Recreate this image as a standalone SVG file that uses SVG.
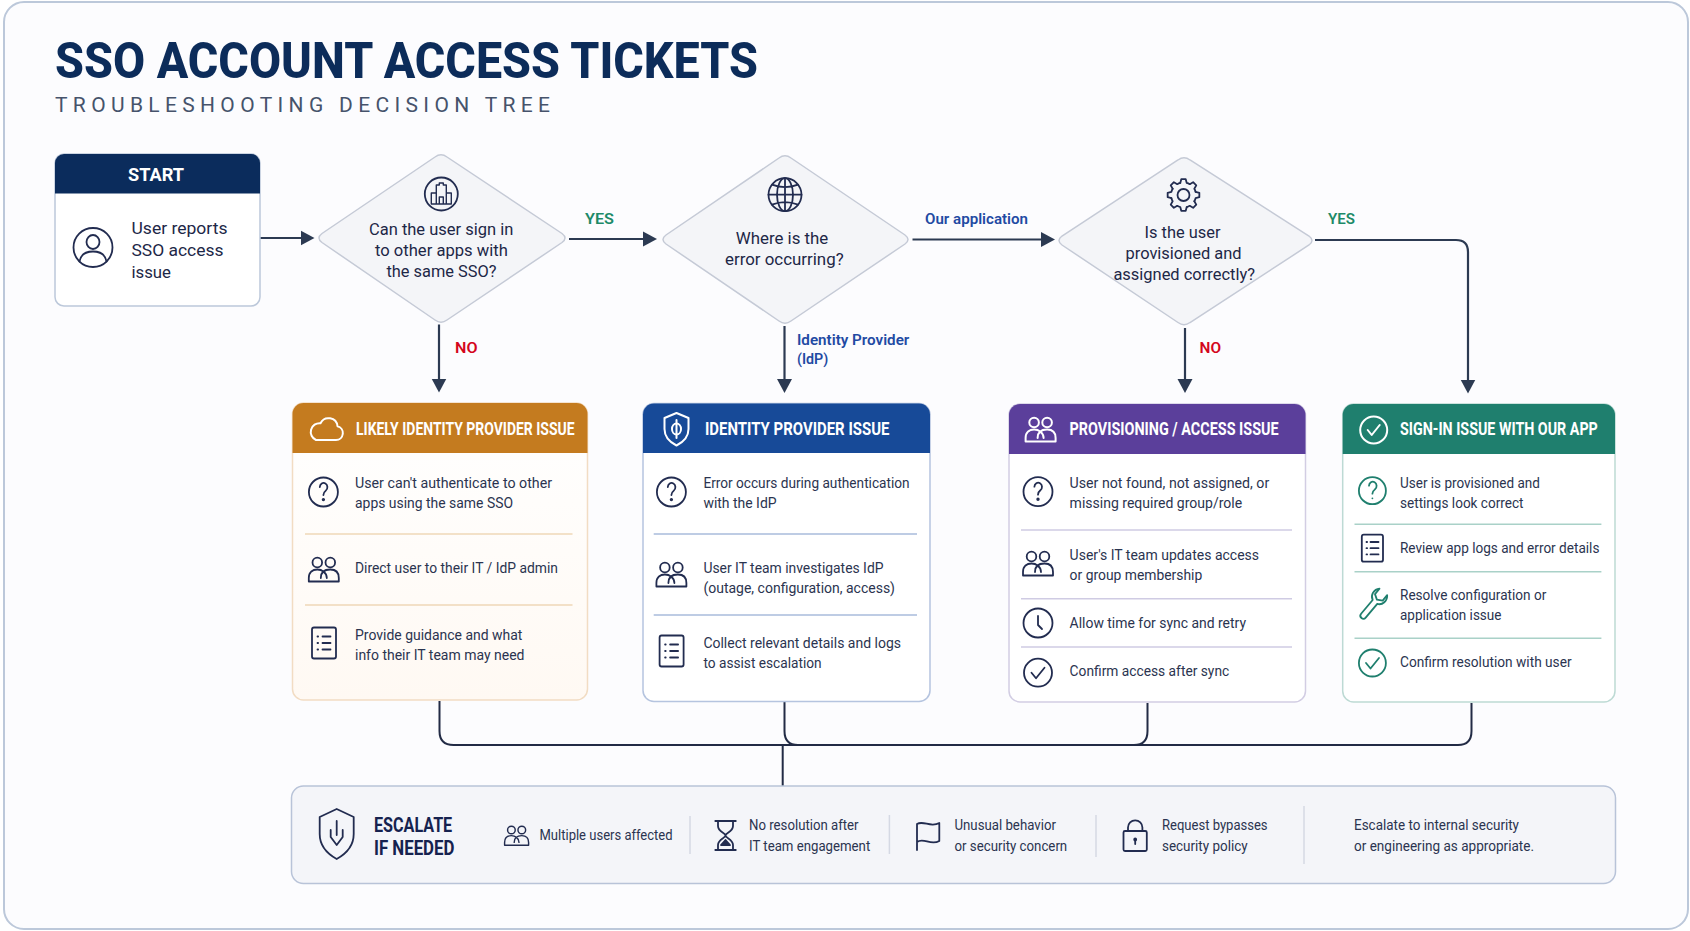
<svg xmlns="http://www.w3.org/2000/svg" xmlns:xlink="http://www.w3.org/1999/xlink" width="1690" height="931" viewBox="0 0 1690 931">
<style>
text{font-family:Roboto,"Liberation Sans",sans-serif}
.title{font-size:50px;font-weight:800;fill:#0c2c5a}
.sub{font-size:21px;fill:#46536b}
.b{font-size:15px;fill:#2b3450}
.q{font-size:17px;fill:#1d2747;text-anchor:start}
.h{font-size:17.5px;font-weight:700;fill:#fff}
.lab{font-size:15.5px;font-weight:600}
.yes{fill:#1d8a68}.no{fill:#d4061c}.blue{fill:#1f4aa3}
.esc{font-size:20px;font-weight:700;fill:#16224f}
.ic{fill:none;stroke:#222c50;stroke-width:1.8;stroke-linecap:round;stroke-linejoin:round}
.w{fill:none;stroke:#fff;stroke-width:2;stroke-linecap:round;stroke-linejoin:round}
.dia{fill:#f4f5f8;stroke:#c5cad6;stroke-width:1.5}
.c{fill:none;stroke:#2c3a52;stroke-width:2.2}
.c2{fill:none;stroke:#222b45;stroke-width:2}
.div{stroke-width:1.5}
.vd{stroke:#d5d9e4;stroke-width:1.5}
</style>
<defs>
<marker id="arrow" markerUnits="userSpaceOnUse" markerWidth="15" markerHeight="16" refX="11" refY="8" orient="auto"><path d="M0 0.5L14 8L0 15.5Z" fill="#2c3a52"/></marker>
<linearGradient id="gO" x1="0" y1="0" x2="0" y2="1"><stop offset="0" stop-color="#fff"/><stop offset="1" stop-color="#fff9f3"/></linearGradient>
<g id="i-q"><circle r="14.5"/><path d="M-3.6-5a3.8 4.2 0 1 1 6 3.6C1 -.3 0 .6 0 3"/><circle cy="7.6" r=".8"/></g>
<g id="i-people"><circle cx="-6.5" cy="-7.5" r="4.8"/><circle cx="6.5" cy="-7.5" r="4.8"/><path d="M-15 11.5V8C-15 2-11-.5-6.5-.5S3 2.500 3 8M-3 8C-3 2 1-.5 6.500-.5S15 2 15 8V11.500H-15"/></g>
<g id="i-doc"><rect x="-12" y="-15.500" width="24" height="31" rx="2"/><path d="M-6.500-6.500h.6M-1.500-6.500H6.500M-6.500 0h.6M-1.500 0H6.500M-6.500 6.500h.6M-1.500 6.500H6.500"/></g>
<g id="i-check"><circle r="14"/><path d="M-6.500 0L-2 5.500L6.500-5"/></g>
<path id="i-tooth" d="M-3.240-12.070L-2.230-15.840H2.230L3.240-12.070A12.500 12.500 0 0 1 6.250-10.830"/>
</defs>

<rect id="frame" x="4" y="2" width="1684" height="927" rx="20" fill="#fcfcfe" stroke="#bcc8da" stroke-width="2"/>

<g id="header">
<text class="title" x="55" y="78" textLength="703" lengthAdjust="spacingAndGlyphs">SSO ACCOUNT ACCESS TICKETS</text>
<text class="sub" x="55" y="111.500" textLength="495" lengthAdjust="spacing">TROUBLESHOOTING DECISION TREE</text>
</g>

<g id="connectors">
<path class="c" marker-end="url(#arrow)" d="M260 238H311.500"/>
<path class="c" marker-end="url(#arrow)" d="M569 239H654"/>
<path class="c" marker-end="url(#arrow)" d="M912.500 239.500H1052"/>
<path class="c" marker-end="url(#arrow)" d="M1315 240H1456Q1468 240 1468 252V390.500"/>
<path class="c" marker-end="url(#arrow)" d="M439 324.500V389.500"/>
<path class="c" marker-end="url(#arrow)" d="M784.500 326V390"/>
<path class="c" marker-end="url(#arrow)" d="M1185 328V390"/>
<path class="c2" d="M439.500 701V731Q439.500 745 453.500 745H1458Q1471.500 745 1471.500 731V703"/>
<path class="c2" d="M784.500 702V731Q784.500 745 798 745M1147.500 703V731Q1147.500 745 1134 745"/>
<path class="c2" d="M782.700 745V786"/>
</g>

<g id="start">
<rect x="55" y="154" width="205" height="152" rx="9" fill="#fff" stroke="#bcc8da" stroke-width="1.500"/>
<path d="M55 193.500V163a9 9 0 0 1 9-9H251a9 9 0 0 1 9 9V193.500Z" fill="#0b2c5c"/>
<text x="128" y="181" font-size="19" font-weight="700" fill="#fff" textLength="56" lengthAdjust="spacingAndGlyphs">START</text>
<g class="ic" transform="translate(93 247.500)"><circle r="19.500"/><ellipse cy="-5.500" rx="6.500" ry="7"/><path d="M-13.500 14C-12 6-6 4 0 4S12 6 13.500 14"/></g>
<text class="q" x="131.500" y="234" textLength="96" lengthAdjust="spacingAndGlyphs">User reports</text>
<text class="q" x="131.500" y="256" textLength="92" lengthAdjust="spacingAndGlyphs">SSO access</text>
<text class="q" x="131.500" y="277.500" textLength="39.500" lengthAdjust="spacingAndGlyphs">issue</text>
</g>

<g id="decision-sso">
<path class="dia" d="M435 157Q441 152.500 447 157L562 233.500Q568 238 562 242.500L447 320Q441 324.500 435 320L322 242.500Q316 238 322 233.500Z"/>
<g class="ic" transform="translate(441.300 194)"><circle r="16.500"/><path d="M-10 10V-1H-5V-9H-2V-11H2V-9H5V-1H10V10ZM-5 10V-1M5 10V-1M-2 10V3H2V10" stroke-width="1.400"/></g>
<text class="q" x="369" y="234.500" textLength="144.300" lengthAdjust="spacingAndGlyphs">Can the user sign in</text>
<text class="q" x="375" y="255.500" textLength="132.800" lengthAdjust="spacingAndGlyphs">to other apps with</text>
<text class="q" x="386.500" y="276.700" textLength="110" lengthAdjust="spacingAndGlyphs">the same SSO?</text>
</g>

<g id="decision-where">
<path class="dia" d="M779 158Q785 153.500 791 158L905 235Q911 239.500 905 244L791 321Q785 325.500 779 321L666 244Q660 239.500 666 235Z"/>
<g class="ic" transform="translate(785 194.700)"><circle r="16.500"/><ellipse rx="8" ry="16.500"/><path d="M0-16.500V16.500M-13-10Q0-5 13-10M-16.500 0H16.500M-13 10Q0 5 13 10"/></g>
<text class="q" x="735.800" y="244.300" textLength="92.500" lengthAdjust="spacingAndGlyphs">Where is the</text>
<text class="q" x="725" y="265" textLength="118.600" lengthAdjust="spacingAndGlyphs">error occurring?</text>
</g>

<g id="decision-provisioned">
<path class="dia" d="M1178 160Q1184 155.500 1190 160L1309 236Q1315 240.500 1309 245L1190 322.500Q1184 327 1178 322.500L1062 245Q1056 240.500 1062 236Z"/>
<g class="ic" transform="translate(1183.500 195)"><circle r="6"/><use xlink:href="#i-tooth"/><use xlink:href="#i-tooth" transform="rotate(45)"/><use xlink:href="#i-tooth" transform="rotate(90)"/><use xlink:href="#i-tooth" transform="rotate(135)"/><use xlink:href="#i-tooth" transform="rotate(180)"/><use xlink:href="#i-tooth" transform="rotate(225)"/><use xlink:href="#i-tooth" transform="rotate(270)"/><use xlink:href="#i-tooth" transform="rotate(315)"/></g>
<text class="q" x="1144.600" y="237.800" textLength="75.900" lengthAdjust="spacingAndGlyphs">Is the user</text>
<text class="q" x="1125.500" y="258.800" textLength="116.100" lengthAdjust="spacingAndGlyphs">provisioned and</text>
<text class="q" x="1113.400" y="279.500" textLength="141.600" lengthAdjust="spacingAndGlyphs">assigned correctly?</text>
</g>

<g id="edge-labels">
<text class="lab yes" x="585" y="223.500" textLength="29" lengthAdjust="spacingAndGlyphs">YES</text>
<text class="lab no" x="455" y="352.500" textLength="22.500" lengthAdjust="spacingAndGlyphs">NO</text>
<text class="lab blue" font-weight="500" x="925" y="223.700" textLength="103" lengthAdjust="spacingAndGlyphs">Our application</text>
<text class="lab blue" x="797" y="344.500" textLength="112.300" lengthAdjust="spacingAndGlyphs">Identity Provider</text>
<text class="lab blue" x="797" y="364" textLength="31.300" lengthAdjust="spacingAndGlyphs">(IdP)</text>
<text class="lab yes" x="1328" y="223.500" textLength="27" lengthAdjust="spacingAndGlyphs">YES</text>
<text class="lab no" x="1199.500" y="352.800" textLength="21.500" lengthAdjust="spacingAndGlyphs">NO</text>
</g>

<g id="card-likely-idp" transform="translate(0 1)">
<rect x="292.500" y="402" width="295" height="297" rx="11" fill="url(#gO)" stroke="#f2dcc3" stroke-width="1.500"/>
<path d="M292.500 452V413a11 11 0 0 1 11-11H576.500a11 11 0 0 1 11 11V452Z" fill="#c47b1f"/>
<path class="w" transform="translate(326 428)" d="M-10 11H10A7 7 0 0 0 11.500-2.800A9 9 0 0 0-5.500-5.800A8.800 8.800 0 0 0-10 11Z"/>
<text class="h" x="356" y="434" textLength="218.600" lengthAdjust="spacingAndGlyphs">LIKELY IDENTITY PROVIDER ISSUE</text>
<g class="ic"><use xlink:href="#i-q" x="323.400" y="491"/><use xlink:href="#i-people" x="323.800" y="569"/><use xlink:href="#i-doc" x="324" y="642"/></g>
<text class="b" x="355" y="487" textLength="197" lengthAdjust="spacingAndGlyphs">User can't authenticate to other</text>
<text class="b" x="355" y="507" textLength="158" lengthAdjust="spacingAndGlyphs">apps using the same SSO</text>
<text class="b" x="355" y="572" textLength="203" lengthAdjust="spacingAndGlyphs">Direct user to their IT / IdP admin</text>
<text class="b" x="355" y="639" textLength="167.400" lengthAdjust="spacingAndGlyphs">Provide guidance and what</text>
<text class="b" x="355" y="659" textLength="169.500" lengthAdjust="spacingAndGlyphs">info their IT team may need</text>
<path class="div" stroke="#f0d8b8" d="M305 533H572.500M305 604H572.500"/>
</g>

<g id="card-idp" transform="translate(0 1)">
<rect x="643" y="402.500" width="287" height="298" rx="11" fill="#fff" stroke="#b5c4df" stroke-width="1.500"/>
<path d="M643 452V413.500a11 11 0 0 1 11-11H919a11 11 0 0 1 11 11V452Z" fill="#174a98"/>
<g class="w" transform="translate(676.500 428)"><path d="M0-16L12-11V0C12 9 6 13.500 0 16.500C-6 13.500-12 9-12 0V-11Z"/><ellipse rx="4.500" ry="5.500"/><path d="M0-9V9"/></g>
<text class="h" x="705" y="434" textLength="184.400" lengthAdjust="spacingAndGlyphs">IDENTITY PROVIDER ISSUE</text>
<g class="ic"><use xlink:href="#i-q" x="671.400" y="491"/><use xlink:href="#i-people" x="671.400" y="574"/><use xlink:href="#i-doc" x="671.600" y="650"/></g>
<text class="b" x="703.400" y="487" textLength="206.200" lengthAdjust="spacingAndGlyphs">Error occurs during authentication</text>
<text class="b" x="703.400" y="507" textLength="73.200" lengthAdjust="spacingAndGlyphs">with the IdP</text>
<text class="b" x="703.400" y="572" textLength="180.100" lengthAdjust="spacingAndGlyphs">User IT team investigates IdP</text>
<text class="b" x="703.400" y="592" textLength="191.600" lengthAdjust="spacingAndGlyphs">(outage, configuration, access)</text>
<text class="b" x="703.400" y="647" textLength="197.600" lengthAdjust="spacingAndGlyphs">Collect relevant details and logs</text>
<text class="b" x="703.400" y="667" textLength="118.300" lengthAdjust="spacingAndGlyphs">to assist escalation</text>
<path class="div" stroke="#a9bcdc" d="M653.700 533H917M653.700 614H917"/>
</g>

<g id="card-provisioning" transform="translate(0 1)">
<rect x="1009" y="403" width="296.500" height="298" rx="11" fill="#fff" stroke="#d2cde3" stroke-width="1.500"/>
<path d="M1009 453V414a11 11 0 0 1 11-11H1294.500a11 11 0 0 1 11 11V453Z" fill="#5b3f9b"/>
<use class="w" xlink:href="#i-people" x="1040.600" y="429"/>
<text class="h" x="1069.600" y="434" textLength="209" lengthAdjust="spacingAndGlyphs">PROVISIONING / ACCESS ISSUE</text>
<g class="ic"><use xlink:href="#i-q" x="1038" y="490.700"/><use xlink:href="#i-people" x="1038" y="563"/><g transform="translate(1038 622)"><circle r="14.500"/><path d="M0-7V2L4 6"/></g><use xlink:href="#i-check" x="1038" y="671.700"/></g>
<text class="b" x="1069.600" y="487" textLength="199.600" lengthAdjust="spacingAndGlyphs">User not found, not assigned, or</text>
<text class="b" x="1069.600" y="507" textLength="172.600" lengthAdjust="spacingAndGlyphs">missing required group/role</text>
<text class="b" x="1069.600" y="559" textLength="189.400" lengthAdjust="spacingAndGlyphs">User's IT team updates access</text>
<text class="b" x="1069.600" y="579" textLength="132.600" lengthAdjust="spacingAndGlyphs">or group membership</text>
<text class="b" x="1069.600" y="627" textLength="176.400" lengthAdjust="spacingAndGlyphs">Allow time for sync and retry</text>
<text class="b" x="1069.600" y="675" textLength="159.600" lengthAdjust="spacingAndGlyphs">Confirm access after sync</text>
<path class="div" stroke="#cfcbe3" d="M1021 529H1292M1021 597.700H1292M1021 646H1292"/>
</g>

<g id="card-signin" transform="translate(0 1)">
<rect x="1342.700" y="403" width="272.300" height="298" rx="11" fill="#fff" stroke="#bddad4" stroke-width="1.500"/>
<path d="M1342.700 453V414a11 11 0 0 1 11-11H1604a11 11 0 0 1 11 11V453Z" fill="#1f7f6e"/>
<g class="w" transform="translate(1373.700 429)"><circle r="13.500"/><path d="M-6 0L-2 5L6-5"/></g>
<text class="h" x="1400" y="434" textLength="197.800" lengthAdjust="spacingAndGlyphs">SIGN-IN ISSUE WITH OUR APP</text>
<g class="ic" style="stroke:#1f7f6e"><circle cx="1372.400" cy="489.700" r="13.500"/><path d="M1369 484.700a3.800 4.200 0 1 1 6 3.600c-1.400 1.100-2.600 2-2.600 4.400M1372.400 497.300h.01"/><circle cx="1372.400" cy="662" r="13.500"/><path d="M1366 662l4.500 5.500l8.500-10.500"/><path transform="translate(1372.400 604) rotate(40)" d="M-3 14V-4C-8-6-9-13-5-17V-10L0-7L5-10V-17C9-13 8-6 3-4V14A3 3 0 0 1-3 14Z"/></g>
<g class="ic"><rect x="1361.800" y="533.700" width="21.200" height="27" rx="2"/><path d="M1366.500 541h.6M1370.500 541H1378.500M1366.500 547.200h.6M1370.500 547.200H1378.500M1366.500 553.400h.6M1370.500 553.400H1378.500"/></g>
<text class="b" x="1400" y="487" textLength="139.800" lengthAdjust="spacingAndGlyphs">User is provisioned and</text>
<text class="b" x="1400" y="507" textLength="123.500" lengthAdjust="spacingAndGlyphs">settings look correct</text>
<text class="b" x="1400" y="552" textLength="199.400" lengthAdjust="spacingAndGlyphs">Review app logs and error details</text>
<text class="b" x="1400" y="598.700" textLength="146.300" lengthAdjust="spacingAndGlyphs">Resolve configuration or</text>
<text class="b" x="1400" y="618.700" textLength="101.400" lengthAdjust="spacingAndGlyphs">application issue</text>
<text class="b" x="1400" y="666" textLength="171.600" lengthAdjust="spacingAndGlyphs">Confirm resolution with user</text>
<path class="div" stroke="#a9d1c8" d="M1354.500 523.300H1601.400M1354.500 570.700H1601.400M1354.500 637.300H1601.400"/>
</g>

<g id="escalate">
<rect x="291.500" y="786" width="1324" height="97.500" rx="12" fill="#f4f5f9" stroke="#b8c3d8" stroke-width="1.500"/>
<g class="ic" transform="translate(336.700 834)"><path d="M0-25L17-17V0C17 12 9 20 0 25C-9 20-17 12-17 0V-17Z"/><path d="M0-13V1M-6-4V3L0 11L6 3V-4"/></g>
<text class="esc" x="374" y="832" textLength="78.200" lengthAdjust="spacingAndGlyphs">ESCALATE</text>
<text class="esc" x="374" y="855" textLength="80.400" lengthAdjust="spacingAndGlyphs">IF NEEDED</text>
<use class="ic" xlink:href="#i-people" transform="translate(516.600 836) scale(.8)"/>
<text class="b" x="539.500" y="840" textLength="133.100" lengthAdjust="spacingAndGlyphs">Multiple users affected</text>
<path class="vd" d="M690 816V854M889.400 815V854M1096 815V857M1304 806V864"/>
<g class="ic" transform="translate(0 1)"><path d="M715.300 820H735.800M715.300 849H735.800M718 820V825C718 831 725.500 832 725.500 834.500C725.500 837 718 838 718 844V849M733 820V825C733 831 725.500 832 725.500 834.500C725.500 837 733 838 733 844V849"/><path d="M721 844L725.500 839L730 844Z" fill="#222c50"/></g>
<text class="b" x="749" y="830" textLength="109.600" lengthAdjust="spacingAndGlyphs">No resolution after</text>
<text class="b" x="749" y="851" textLength="121.200" lengthAdjust="spacingAndGlyphs">IT team engagement</text>
<path class="ic" transform="translate(-.500 1)" d="M917.500 849V823C924 819 931 827 939.800 822V840C931 845 924 836 917.500 841"/>
<text class="b" x="954.500" y="830" textLength="101.400" lengthAdjust="spacingAndGlyphs">Unusual behavior</text>
<text class="b" x="954.500" y="851" textLength="112.700" lengthAdjust="spacingAndGlyphs">or security concern</text>
<g class="ic" transform="translate(-.500 1)"><rect x="1124" y="830" width="23.300" height="20" rx="1.500"/><path d="M1128.500 830V826.500a7.200 7.200 0 0 1 14.400 0V830M1135.700 838V843"/><circle cx="1135.700" cy="838.500" r="1" fill="#222c50"/></g>
<text class="b" x="1162" y="830" textLength="105.600" lengthAdjust="spacingAndGlyphs">Request bypasses</text>
<text class="b" x="1162" y="851" textLength="85.600" lengthAdjust="spacingAndGlyphs">security policy</text>
<text class="b" x="1354" y="830" textLength="165" lengthAdjust="spacingAndGlyphs">Escalate to internal security</text>
<text class="b" x="1354" y="851" textLength="180" lengthAdjust="spacingAndGlyphs">or engineering as appropriate.</text>
</g>
</svg>
